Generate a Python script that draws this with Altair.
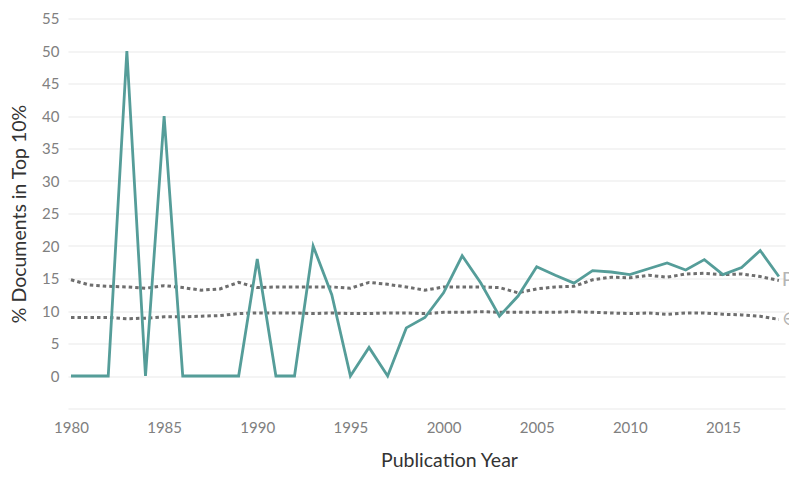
import altair as alt
import pandas as pd

years = list(range(1980, 2019))
teal = [0,0,0,50,0,40,0,0,0,0,18,0,0,20,12.5,0,4.4,0,7.4,9,12.8,18.5,14.3,9.2,12.3,16.8,15.5,14.3,16.2,16,15.6,16.5,17.4,16.3,17.9,15.6,16.7,19.3,15.3]
upper = [14.8,14,13.8,13.7,13.5,13.9,13.6,13.2,13.4,14.4,13.6,13.7,13.7,13.7,13.7,13.5,14.4,14.1,13.7,13.2,13.7,13.7,13.7,13.6,12.8,13.4,13.7,13.8,14.8,15.2,15.1,15.5,15.2,15.7,15.8,15.6,15.7,15.3,14.7]
lower = [9,9,9,8.8,8.9,9.1,9.1,9.2,9.3,9.6,9.7,9.7,9.7,9.6,9.7,9.6,9.6,9.7,9.7,9.6,9.8,9.8,9.9,9.8,9.8,9.8,9.8,9.9,9.8,9.7,9.6,9.7,9.5,9.7,9.7,9.5,9.4,9.2,8.7]
y_ticks = list(range(-5, 56, 5))
x_ticks = list(range(1980, 2016, 5))
end_labels = ["P", "⊕"]
end_values = [14.7, 8.7]

FONT = "Lato"
df = pd.DataFrame({"year": years, "teal": teal, "upper": upper, "lower": lower})
x_scale = alt.Scale(domain=[1979.84, 2018.33], nice=False, zero=False)
y_scale = alt.Scale(domain=[-5, 55], nice=False, zero=False)

x_axis = alt.Axis(title="Publication Year", values=x_ticks, format="d", grid=False, domain=False, ticks=False,
                  labelFont=FONT, labelFontSize=15, labelColor="#808080", labelPadding=12, labelFlush=False,
                  labelOverlap=False, titleFont=FONT, titleFontSize=19.5, titleFontWeight="normal", titleColor="#333333",
                  titleX=381, titleY=62, titleBaseline="bottom")
y_axis = alt.Axis(title="% Documents in Top 10%", values=y_ticks, tickCount=13, labelOverlap=False,
                  labelExpr="datum.value < 0 ? '' : datum.label", domain=False, ticks=False, gridColor="#f0f0f0", gridWidth=1.5,
                  labelFont=FONT, labelFontSize=15, labelColor="#808080", labelPadding=9,
                  titleFont=FONT, titleFontSize=19.5, titleFontWeight="normal", titleColor="#333333", titleX=-39, titleY=195)

base = alt.Chart(df)
up = base.mark_line(color="#6e6e6e", strokeWidth=3, strokeDash=[3.5, 3]).encode(
    x=alt.X("year:Q", scale=x_scale, axis=x_axis), y=alt.Y("upper:Q", scale=y_scale, axis=y_axis))
lo = base.mark_line(color="#6e6e6e", strokeWidth=3, strokeDash=[3.5, 3]).encode(
    x=alt.X("year:Q", scale=x_scale), y=alt.Y("lower:Q", scale=y_scale))
main = base.mark_line(color="#559d99", strokeWidth=2.8, strokeJoin="miter").encode(
    x=alt.X("year:Q", scale=x_scale), y=alt.Y("teal:Q", scale=y_scale))
ends = alt.Chart(pd.DataFrame({"year": [2018, 2018], "v": end_values, "t": end_labels})).mark_text(
    align="left", baseline="middle", dx=3, font=FONT, fontSize=20, color="#b5b5b5").encode(
    x=alt.X("year:Q", scale=x_scale), y=alt.Y("v:Q", scale=y_scale), text="t:N")

chart = (up + lo + main + ends).properties(
    width=717, height=390, background="white",
    padding={"left": 60, "top": 10.5, "right": 4, "bottom": 62},
    autosize=alt.AutoSizeParams(type="none"),
).configure_view(stroke=None)

chart.save("out.html", embed_options={"renderer": "svg", "actions": False})
